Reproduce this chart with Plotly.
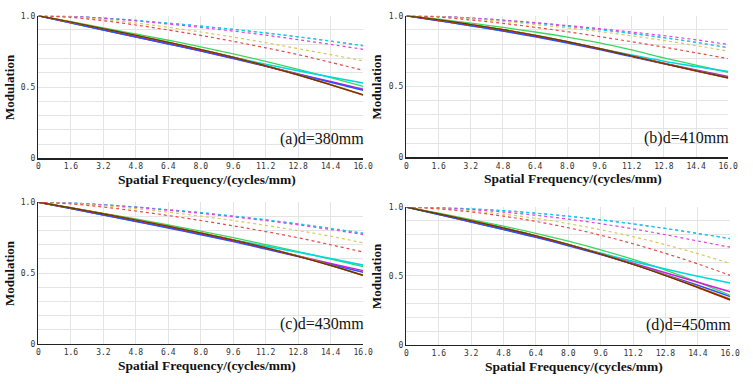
import plotly.graph_objects as go

freq = [0, 1.6, 3.2, 4.8, 6.4, 8.0, 9.6, 11.2, 12.8, 14.4, 16.0]
x_ticks = [0, 1.6, 3.2, 4.8, 6.4, 8.0, 9.6, 11.2, 12.8, 14.4, 16.0]
x_ticktext = ["0", "1.6", "3.2", "4.8", "6.4", "8.0", "9.6", "11.2", "12.8", "14.4", "16.0"]
y_ticks = [0, 0.1, 0.2, 0.3, 0.4, 0.5, 0.6, 0.7, 0.8, 0.9, 1.0]
y_ticktext = ["0", "", "", "", "", "0.5", "", "", "", "", "1.0"]
panel_labels = ["(a)d=380mm", "(b)d=410mm", "(c)d=430mm", "(d)d=450mm"]

# ---- panel (a) d=380mm ----  (_s = dotted sagittal, _t = solid tangential)
a_cyan_s = [1, .995, .983, .967, .948, .927, .904, .879, .852, .822, .790]
a_blue_s = [1, .995, .983, .967, .948, .927, .904, .879, .852, .822, .790]
a_mag_s = [1, .995, .982, .964, .942, .918, .892, .864, .832, .799, .764]
a_yel_s = [1, .992, .974, .949, .919, .886, .850, .811, .769, .727, .683]
a_red_s = [1, .988, .965, .935, .900, .862, .820, .775, .727, .673, .617]
a_green_t = [1, .958, .915, .872, .828, .782, .733, .680, .624, .566, .505]
a_cyan_t = [1, .950, .900, .852, .805, .757, .708, .660, .614, .570, .528]
a_mag_t = [1, .951, .902, .853, .804, .754, .702, .648, .592, .538, .484]
a_blue_t = [1, .950, .900, .851, .802, .752, .700, .646, .590, .534, .477]
a_red_t = [1, .955, .908, .862, .813, .762, .708, .648, .584, .515, .443]
a_orange_t = [1, .956, .909, .863, .815, .764, .710, .650, .587, .518, .447]
a_dark_t = [1, .956, .909, .863, .814, .763, .709, .649, .585, .516, .445]

# ---- panel (b) d=410mm ----
b_cyan_s = [1, .995, .983, .967, .948, .926, .902, .875, .845, .812, .774]
b_blue_s = [1, .995, .983, .967, .948, .926, .902, .875, .845, .812, .774]
b_mag_s = [1, .995, .984, .969, .951, .931, .909, .885, .859, .830, .797]
b_yel_s = [1, .993, .978, .960, .938, .914, .888, .858, .825, .789, .750]
b_red_s = [1, .990, .970, .946, .918, .887, .853, .816, .778, .738, .697]
b_green_t = [1, .975, .948, .918, .885, .849, .808, .758, .702, .651, .600]
b_cyan_t = [1, .966, .930, .893, .855, .813, .768, .722, .679, .641, .605]
b_mag_t = [1, .967, .932, .896, .856, .812, .765, .715, .665, .617, .570]
b_blue_t = [1, .965, .929, .892, .852, .808, .761, .711, .661, .613, .565]
b_red_t = [1, .970, .937, .901, .861, .816, .767, .715, .662, .610, .560]
b_orange_t = [1, .971, .938, .902, .863, .818, .769, .717, .664, .612, .562]
b_dark_t = [1, .971, .938, .902, .862, .817, .768, .716, .663, .611, .561]

# ---- panel (c) d=430mm ----
c_cyan_s = [1, .995, .983, .967, .948, .927, .903, .877, .848, .816, .782]
c_blue_s = [1, .995, .982, .966, .946, .925, .901, .875, .846, .814, .780]
c_mag_s = [1, .994, .981, .964, .944, .922, .897, .870, .840, .807, .772]
c_yel_s = [1, .992, .976, .955, .930, .902, .871, .837, .800, .760, .713]
c_red_s = [1, .988, .966, .938, .906, .871, .833, .793, .749, .700, .648]
c_green_t = [1, .962, .922, .882, .840, .796, .750, .701, .651, .599, .545]
c_cyan_t = [1, .956, .911, .867, .823, .779, .734, .690, .647, .603, .556]
c_mag_t = [1, .957, .912, .867, .822, .775, .726, .674, .620, .568, .517]
c_blue_t = [1, .955, .909, .864, .818, .771, .722, .670, .616, .561, .505]
c_red_t = [1, .960, .918, .875, .830, .783, .733, .678, .618, .553, .483]
c_orange_t = [1, .961, .919, .876, .831, .784, .735, .680, .621, .556, .486]
c_dark_t = [1, .960, .918, .875, .830, .783, .734, .679, .619, .554, .484]

# ---- panel (d) d=450mm ----
d_cyan_s = [1, .996, .987, .974, .956, .934, .908, .878, .845, .809, .771]
d_blue_s = [1, .996, .987, .974, .956, .934, .908, .878, .845, .809, .771]
d_mag_s = [1, .994, .982, .964, .941, .913, .880, .842, .800, .754, .709]
d_yel_s = [1, .990, .973, .949, .918, .880, .836, .785, .727, .662, .591]
d_red_s = [1, .987, .965, .934, .896, .850, .796, .734, .664, .588, .504]
d_green_t = [1, .956, .910, .862, .810, .753, .690, .620, .543, .456, .360]
d_cyan_t = [1, .947, .893, .839, .784, .726, .666, .606, .550, .498, .449]
d_mag_t = [1, .948, .894, .840, .784, .724, .660, .593, .523, .455, .385]
d_blue_t = [1, .946, .892, .837, .781, .720, .655, .585, .510, .432, .350]
d_red_t = [1, .951, .901, .848, .791, .728, .659, .584, .503, .416, .326]
d_orange_t = [1, .952, .902, .849, .793, .730, .662, .587, .507, .421, .333]
d_dark_t = [1, .951, .901, .848, .792, .729, .660, .585, .504, .418, .329]

panels = [
    [a_blue_s, a_cyan_s, a_mag_s, a_yel_s, a_red_s, a_green_t, a_cyan_t, a_mag_t, a_blue_t, a_red_t, a_orange_t, a_dark_t],
    [b_blue_s, b_cyan_s, b_mag_s, b_yel_s, b_red_s, b_green_t, b_cyan_t, b_mag_t, b_blue_t, b_red_t, b_orange_t, b_dark_t],
    [c_blue_s, c_cyan_s, c_mag_s, c_yel_s, c_red_s, c_green_t, c_cyan_t, c_mag_t, c_blue_t, c_red_t, c_orange_t, c_dark_t],
    [d_blue_s, d_cyan_s, d_mag_s, d_yel_s, d_red_s, d_green_t, d_cyan_t, d_mag_t, d_blue_t, d_red_t, d_orange_t, d_dark_t],
]

styles = [
    ("#6a86ff", "dot", 1.2),
    ("#00d8e8", "dot", 1.2),
    ("#e040e0", "dot", 1.2),
    ("#d6c860", "dot", 1.2),
    ("#e84848", "dot", 1.2),
    ("#38d860", "solid", 1.3),
    ("#00d8e0", "solid", 1.6),
    ("#d020d0", "solid", 1.5),
    ("#3050ff", "solid", 1.5),
    ("#e80000", "solid", 1.5),
    ("#ff8000", "solid", 1.3),
    ("#404010", "solid", 1.1),
]

W, H = 753, 384
# plot area boxes in pixels: (left, right, top, bottom)
boxes = [(37, 367, 12, 158), (411, 738, 12, 157), (37, 367, 203, 348), (411, 740, 208, 349)]

fig = go.Figure()
for i, series in enumerate(panels):
    sfx = "" if i == 0 else str(i + 1)
    for vals, (col, dash, w) in zip(series, styles):
        fig.add_trace(go.Scatter(
            x=freq, y=vals, mode="lines", xaxis="x" + sfx, yaxis="y" + sfx,
            line=dict(color=col, dash=dash, width=w, shape="spline", smoothing=1.0),
            showlegend=False, hoverinfo="skip"))

layout = dict(width=W, height=H, margin=dict(l=0, r=0, t=0, b=0),
              paper_bgcolor="white", plot_bgcolor="white", showlegend=False)
annotations = []
tick_font = dict(family="DejaVu Sans Mono", size=8, color="#333333")
for i, (l, r, t, b) in enumerate(boxes):
    sfx = "" if i == 0 else str(i + 1)
    layout["xaxis" + sfx] = dict(
        domain=[l / W, r / W], range=[0, 16], anchor="y" + sfx,
        tickvals=x_ticks, ticktext=x_ticktext, showgrid=True, gridcolor="#e4e4e4", gridwidth=1,
        showline=True, linecolor="#222222", linewidth=1.6, zeroline=False, ticks="", ticklen=0,
        tickfont=tick_font, fixedrange=True)
    layout["yaxis" + sfx] = dict(
        domain=[1 - b / H, 1 - t / H], range=[0, 1], anchor="x" + sfx,
        tickvals=y_ticks, ticktext=y_ticktext, showgrid=True, gridcolor="#e4e4e4", gridwidth=1,
        showline=True, linecolor="#222222", linewidth=1.6, zeroline=False, ticks="", ticklen=0,
        tickfont=tick_font, fixedrange=True)
    annotations.append(dict(
        text="<b>Spatial Frequency/(cycles/mm)</b>", xref="paper", yref="paper",
        x=((l + r) / 2 + 6) / W, y=1 - (b + 22) / H, xanchor="center", yanchor="middle",
        showarrow=False, font=dict(family="Liberation Serif", size=13.5, color="#111111")))
    annotations.append(dict(
        text="<b>Modulation</b>", xref="paper", yref="paper",
        x=(l - 30) / W, y=1 - ((t + b) / 2) / H, xanchor="center", yanchor="middle",
        textangle=-90, showarrow=False,
        font=dict(family="Liberation Serif", size=13, color="#111111")))
    annotations.append(dict(
        text=panel_labels[i], xref="paper", yref="paper",
        x=(r + 3) / W, y=1 - (b - 20) / H, xanchor="right", yanchor="middle",
        showarrow=False, font=dict(family="Liberation Serif", size=16, color="#111111")))
layout["annotations"] = annotations
fig.update_layout(**layout)
fig.write_html("out.html", config={"displayModeBar": False, "staticPlot": True},
               post_script="document.body.style.margin='0px';document.body.style.overflow='hidden';")
